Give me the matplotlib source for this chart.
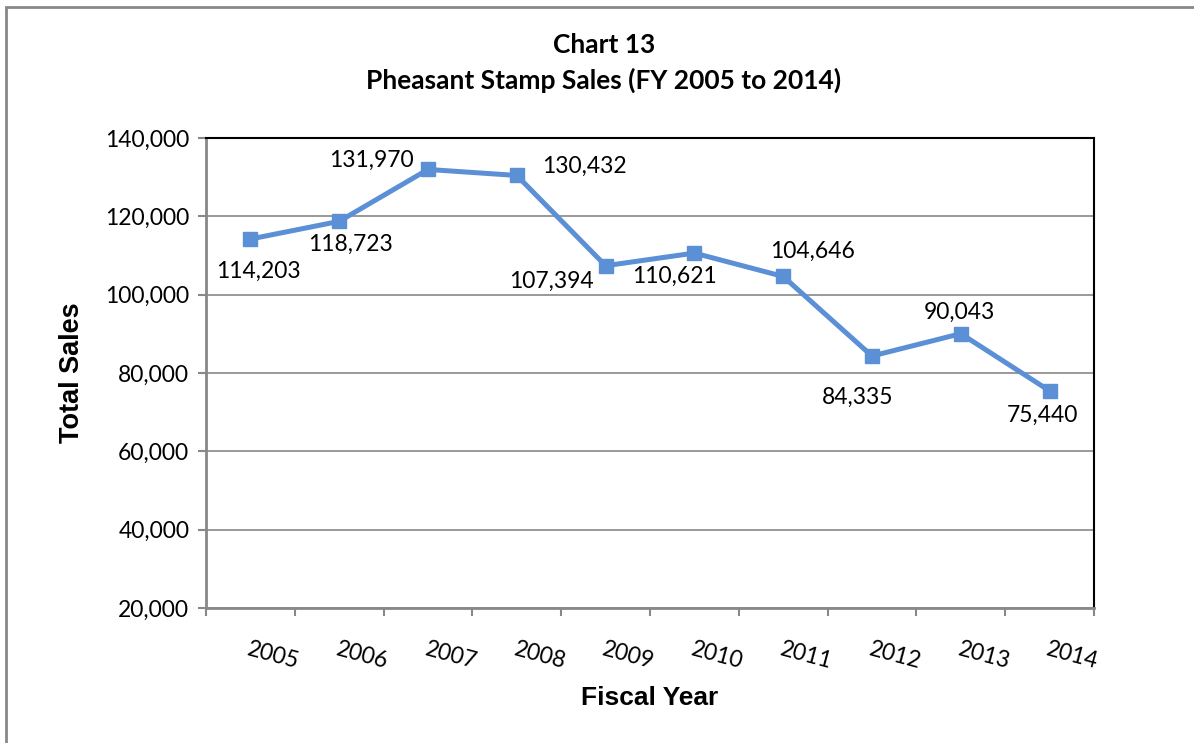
import numpy as np
import matplotlib
matplotlib.use('Agg')
import matplotlib.pyplot as plt

years = ['2005', '2006', '2007', '2008', '2009', '2010', '2011', '2012', '2013', '2014']
sales = [114203, 118723, 131970, 130432, 107394, 110621, 104646, 84335, 90043, 75440]
# label offsets in pixels (dx, dy) relative to each point
label_offsets = [(8, -32), (11, -23), (-57, 9), (68, 9), (-54, -16), (-20, -23), (29, 25), (-14, -41), (-1, 21), (-7, -24)]

W, H = 1194, 743
fig = plt.figure(figsize=(W / 100, H / 100), dpi=100)
ax = fig.add_axes([206 / W, 1 - 608 / H, (1094 - 206) / W, (608 - 138) / H])

x = np.arange(len(years))
ax.plot(x, sales, color='#5B8FD6', lw=3.6, marker='s', ms=10, zorder=3)

for xi, v, (dx, dy) in zip(x, sales, label_offsets):
    ax.annotate(f'{v:,}', (xi, v), xytext=(dx, dy), textcoords='offset pixels',
                ha='center', va='center', fontsize=16.5, family='Lato')

ax.set_xlim(-0.5, len(years) - 0.5)
ax.set_ylim(20000, 140000)
ax.set_yticks(np.arange(20000, 140001, 20000))
ax.set_yticklabels([f'{v:,}' for v in range(20000, 140001, 20000)], family='Lato', fontsize=16.5)
ax.set_xticks(x)
ax.set_xticklabels(years, rotation=-15, family='Lato', fontsize=16.5, ha='left',
                   va='top', rotation_mode='anchor')
ax.set_xticks(np.arange(-0.5, len(years)), minor=True)
ax.tick_params(axis='x', which='major', length=0, pad=22)
ax.tick_params(axis='x', which='minor', length=6, color='#888888', width=1.5)
ax.tick_params(axis='y', length=6, color='#888888', width=1.5, pad=6)
ax.grid(axis='y', color='#888888', lw=1.2)
ax.set_axisbelow(True)
for s in ['left', 'bottom']:
    ax.spines[s].set_color('#888888')
    ax.spines[s].set_linewidth(2)
for s in ['top', 'right']:
    ax.spines[s].set_color('black')
    ax.spines[s].set_linewidth(1.5)

fig.text(604 / W, 1 - 45 / H, 'Chart 13', ha='center', va='center', fontsize=19, fontweight='bold', family='Lato')
fig.text(604 / W, 1 - 80 / H, 'Pheasant Stamp Sales (FY 2005 to 2014)', ha='center', va='center',
         fontsize=19, fontweight='bold', family='Lato')
fig.text(72 / W, 1 - 373 / H, 'Total Sales', rotation=90, ha='center', va='center', fontsize=19.5,
         fontweight='bold', family='Liberation Sans')
fig.text(650 / W, 1 - 698 / H, 'Fiscal Year', ha='center', va='center', fontsize=19,
         fontweight='bold', family='Liberation Sans')

# outer chart border
border = plt.Rectangle((6 / W, -0.01), 1.1, 1 - 7 / H + 0.01, transform=fig.transFigure,
                       fill=False, edgecolor='#888888', lw=2)
fig.patches.append(border)

fig.savefig('out.png', dpi=100)
